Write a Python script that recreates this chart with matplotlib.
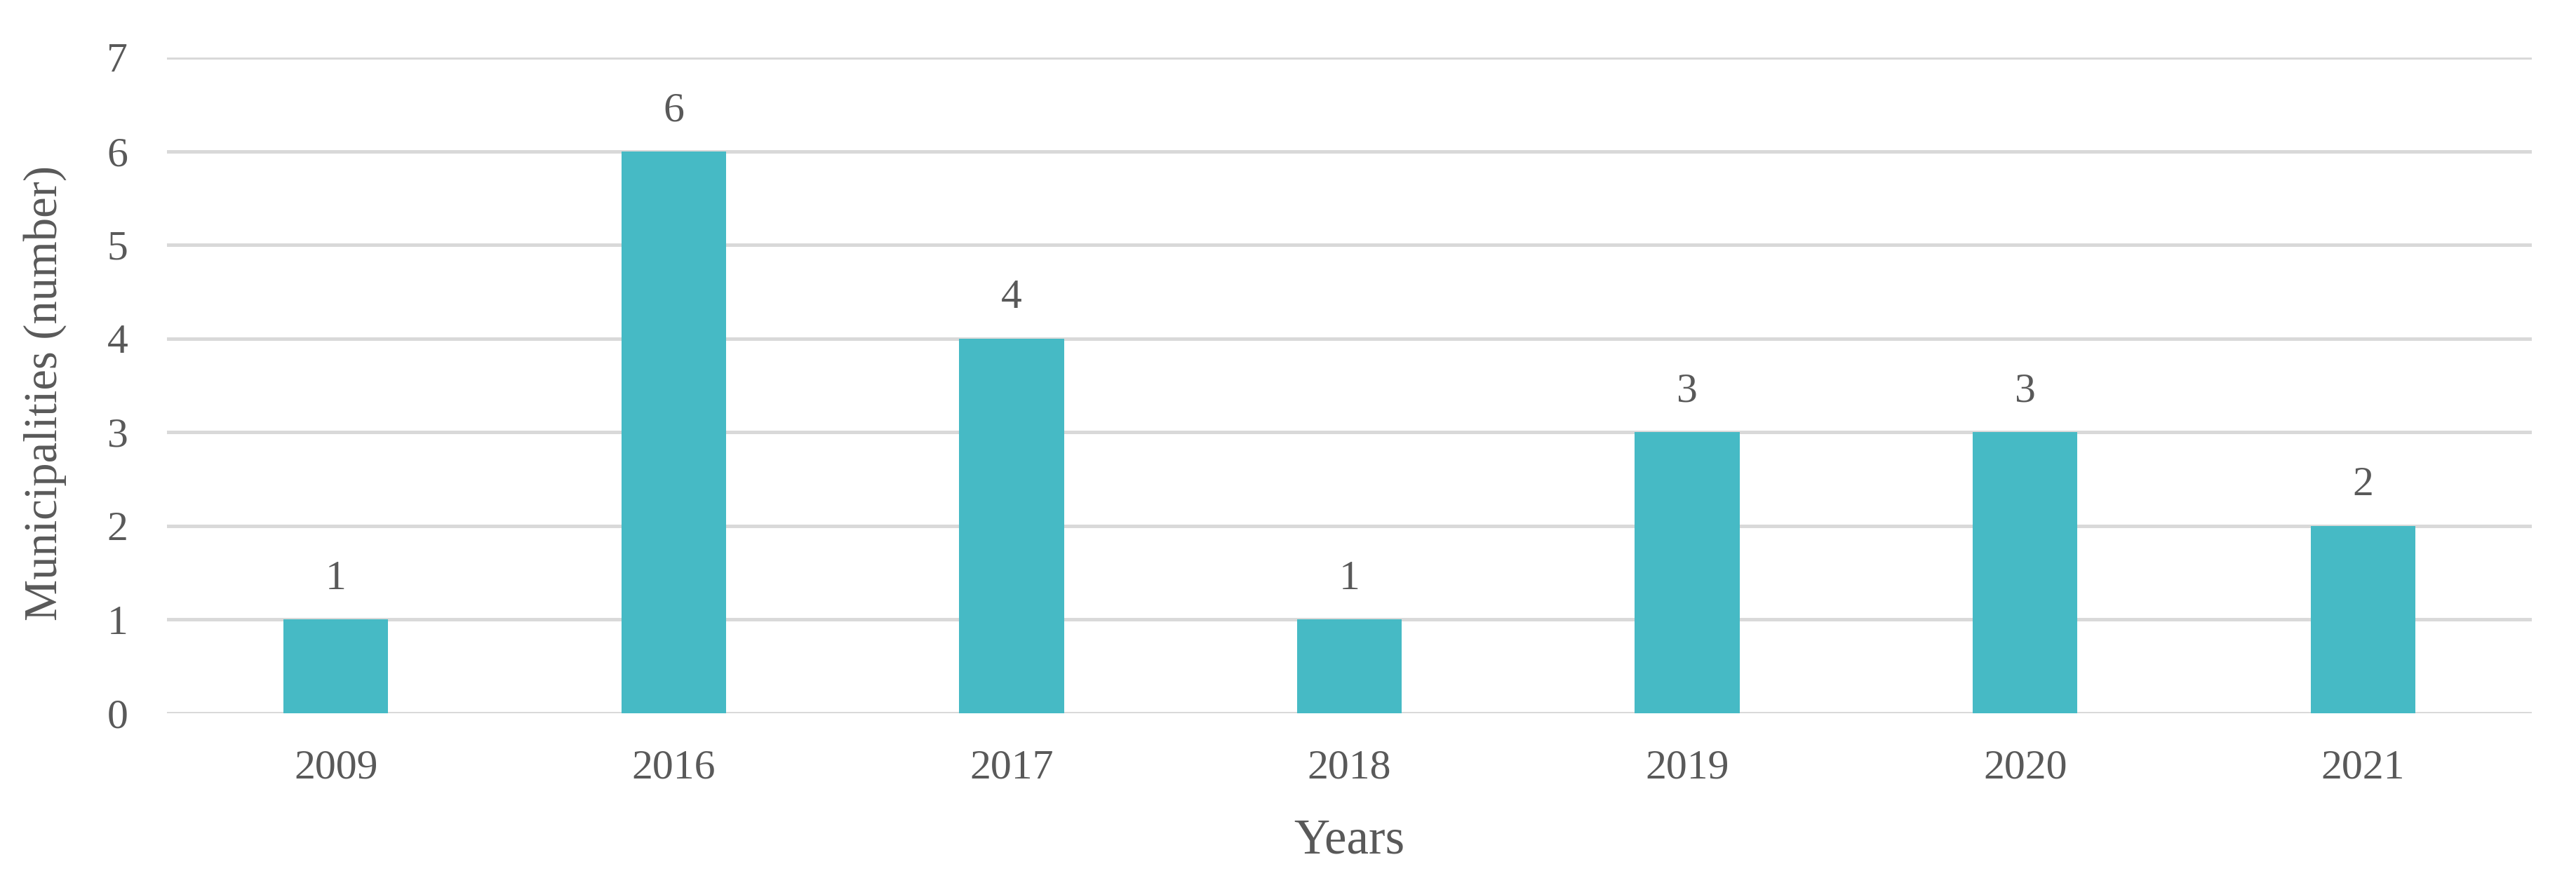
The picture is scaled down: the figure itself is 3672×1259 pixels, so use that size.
import matplotlib
matplotlib.use("Agg")
import matplotlib.pyplot as plt

years = ["2009", "2016", "2017", "2018", "2019", "2020", "2021"]
municipalities = [1, 6, 4, 1, 3, 3, 2]
y_ticks = [0, 1, 2, 3, 4, 5, 6, 7]

TEXT = "#595959"
BAR = "#46BAC5"
GRID = "#D9D9D9"
FONT = ["Liberation Serif", "DejaVu Serif"]

plt.rcParams["font.family"] = FONT

W, H = 3673, 1259
fig = plt.figure(figsize=(W / 100, H / 100), dpi=100)
ax = fig.add_axes([238 / W, 1 - 1017 / H, (3609 - 238) / W, (1017 - 82) / H])

x = list(range(len(years)))
bars = ax.bar(x, municipalities, width=0.31, color=BAR, zorder=3)

ax.set_xlim(-0.5, len(years) - 0.5)
ax.set_ylim(0, 7)
ax.set_yticks(y_ticks)
ax.set_xticks(x)
ax.set_xticklabels(years)

for yv in y_ticks:
    ax.axhline(yv, color=GRID, linewidth=3.6, zorder=1)

for s in ax.spines.values():
    s.set_visible(False)

ax.tick_params(axis="both", length=0, labelsize=43, colors=TEXT)
ax.tick_params(axis="x", pad=37)
ax.tick_params(axis="y", pad=40)

for xi, v in zip(x, municipalities):
    ax.annotate(str(v), (xi, v), xytext=(0, 22), textcoords="offset points",
                ha="center", va="bottom", fontsize=43, color=TEXT)

ax.text((64 - 238) / (3609 - 238), 0.488, "Municipalities (number)", transform=ax.transAxes,
        rotation=90, ha="center", va="center", fontsize=48, color=TEXT)
ax.text(0.5, (1017 - 1199) / (1017 - 82), "Years", transform=ax.transAxes,
        ha="center", va="center", fontsize=51, color=TEXT)

fig.savefig("out.png", dpi=100, facecolor="white")
